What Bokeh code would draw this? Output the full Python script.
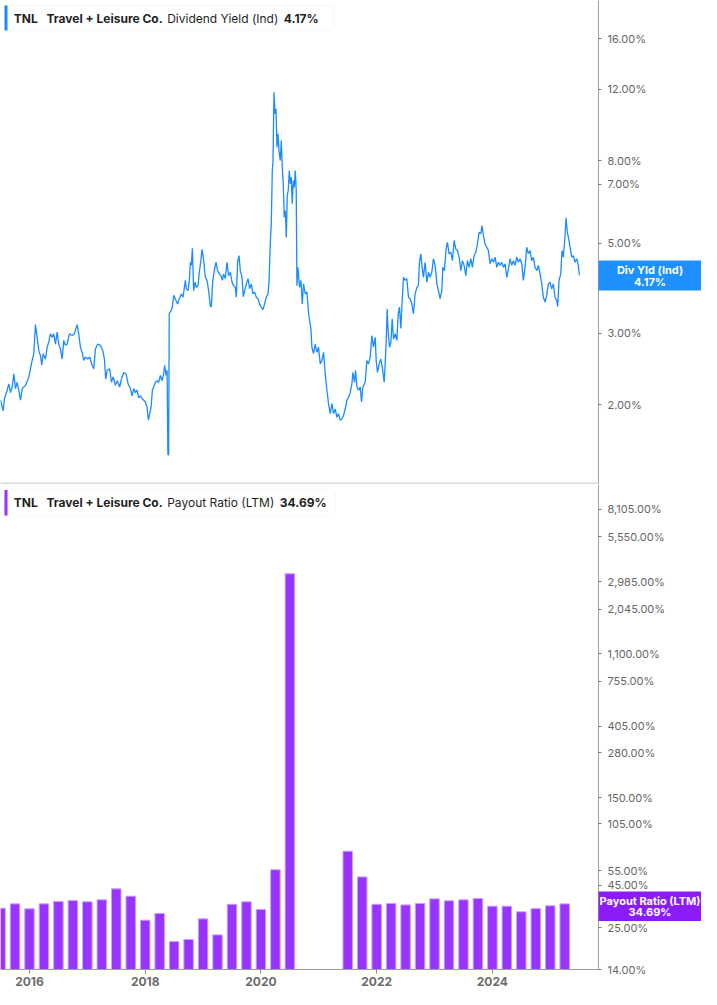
from bokeh.plotting import figure
from bokeh.models import FixedTicker, Label, BoxAnnotation, Range1d
from bokeh.layouts import column
from bokeh.embed import file_html
from bokeh.resources import INLINE

# ---------------- data ----------------
# Dividend yield (Ind), % ; time as decimal year
yield_t = [
    2015.499, 2015.546, 2015.568, 2015.615, 2015.642, 2015.672, 2015.701, 2015.729, 2015.758, 2015.787,
    2015.815, 2015.844, 2015.874, 2015.931, 2015.988, 2016.017, 2016.046, 2016.074, 2016.103, 2016.133,
    2016.160, 2016.190, 2016.212, 2016.236, 2016.276, 2016.305, 2016.333, 2016.362, 2016.392, 2016.419,
    2016.449, 2016.478, 2016.506, 2016.535, 2016.564, 2016.592, 2016.621, 2016.651, 2016.690, 2016.737,
    2016.777, 2016.823, 2016.851, 2016.880, 2016.910, 2016.937, 2016.967, 2017.006, 2017.041, 2017.082,
    2017.110, 2017.139, 2017.179, 2017.226, 2017.266, 2017.295, 2017.317, 2017.342, 2017.386, 2017.416,
    2017.445, 2017.485, 2017.514, 2017.559, 2017.588, 2017.628, 2017.670, 2017.704, 2017.744, 2017.773,
    2017.801, 2017.830, 2017.860, 2017.887, 2017.917, 2017.946, 2017.974, 2018.003, 2018.032, 2018.055,
    2018.077, 2018.101, 2018.124, 2018.146, 2018.176, 2018.205, 2018.233, 2018.262, 2018.291, 2018.319,
    2018.336, 2018.360, 2018.378, 2018.392, 2018.405, 2018.415, 2018.447, 2018.469, 2018.492, 2018.533,
    2018.561, 2018.590, 2018.625, 2018.654, 2018.694, 2018.711, 2018.740, 2018.763, 2018.780, 2018.797,
    2018.815, 2018.837, 2018.861, 2018.883, 2018.913, 2018.935, 2018.958, 2018.982, 2019.010, 2019.039,
    2019.068, 2019.096, 2019.125, 2019.143, 2019.165, 2019.194, 2019.224, 2019.251, 2019.281, 2019.310,
    2019.332, 2019.355, 2019.384, 2019.414, 2019.441, 2019.471, 2019.500, 2019.528, 2019.557, 2019.574,
    2019.597, 2019.621, 2019.643, 2019.673, 2019.695, 2019.725, 2019.747, 2019.777, 2019.804, 2019.833,
    2019.863, 2019.890, 2019.920, 2019.949, 2019.977, 2020.006, 2020.035, 2020.063, 2020.092, 2020.122,
    2020.139, 2020.161, 2020.179, 2020.196, 2020.208, 2020.226, 2020.243, 2020.260, 2020.277, 2020.295,
    2020.312, 2020.334, 2020.352, 2020.369, 2020.386, 2020.403, 2020.421, 2020.438, 2020.455, 2020.472,
    2020.490, 2020.507, 2020.524, 2020.541, 2020.559, 2020.576, 2020.593, 2020.610, 2020.622, 2020.640,
    2020.667, 2020.691, 2020.714, 2020.736, 2020.766, 2020.795, 2020.823, 2020.864, 2020.881, 2020.909,
    2020.938, 2020.968, 2020.996, 2021.025, 2021.054, 2021.082, 2021.111, 2021.140, 2021.168, 2021.197,
    2021.227, 2021.254, 2021.284, 2021.313, 2021.341, 2021.370, 2021.400, 2021.427, 2021.457, 2021.486,
    2021.513, 2021.543, 2021.572, 2021.589, 2021.617, 2021.635, 2021.659, 2021.686, 2021.716, 2021.738,
    2021.762, 2021.802, 2021.831, 2021.859, 2021.888, 2021.918, 2021.945, 2021.975, 2021.992, 2022.014,
    2022.043, 2022.073, 2022.101, 2022.130, 2022.147, 2022.165, 2022.182, 2022.199, 2022.222, 2022.246,
    2022.268, 2022.291, 2022.320, 2022.349, 2022.372, 2022.394, 2022.418, 2022.441, 2022.463, 2022.493,
    2022.522, 2022.550, 2022.579, 2022.608, 2022.636, 2022.665, 2022.695, 2022.722, 2022.740, 2022.763,
    2022.786, 2022.808, 2022.838, 2022.867, 2022.895, 2022.924, 2022.953, 2022.981, 2023.010, 2023.040,
    2023.067, 2023.097, 2023.126, 2023.143, 2023.171, 2023.200, 2023.223, 2023.252, 2023.282, 2023.309,
    2023.339, 2023.368, 2023.396, 2023.425, 2023.455, 2023.482, 2023.511, 2023.541, 2023.568, 2023.598,
    2023.627, 2023.655, 2023.684, 2023.713, 2023.741, 2023.770, 2023.800, 2023.822, 2023.845, 2023.874,
    2023.903, 2023.931, 2023.960, 2023.990, 2024.017, 2024.047, 2024.076, 2024.104, 2024.133, 2024.162,
    2024.190, 2024.219, 2024.249, 2024.276, 2024.306, 2024.335, 2024.363, 2024.392, 2024.421, 2024.449,
    2024.478, 2024.508, 2024.535, 2024.565, 2024.594, 2024.622, 2024.651, 2024.680, 2024.708, 2024.737,
    2024.767, 2024.794, 2024.824, 2024.853, 2024.881, 2024.910, 2024.939, 2024.967, 2024.996, 2025.026,
    2025.053, 2025.083, 2025.112, 2025.129, 2025.152, 2025.181, 2025.204, 2025.226, 2025.250, 2025.273,
    2025.295, 2025.319, 2025.342, 2025.371, 2025.399, 2025.428, 2025.457, 2025.485, 2025.503,
]
yield_pct = [
    2.05, 1.93, 2.07, 2.17, 2.25, 2.14, 2.21, 2.38, 2.19, 2.27,
    2.17, 2.05, 2.19, 2.23, 2.34, 2.45, 2.57, 2.67, 3.15, 2.93,
    2.72, 2.64, 2.50, 2.67, 2.59, 2.77, 2.85, 2.99, 2.93, 2.99,
    2.82, 3.02, 2.82, 2.74, 2.59, 2.88, 2.80, 2.82, 2.99, 2.96,
    2.99, 3.15, 2.99, 2.77, 2.69, 2.57, 2.62, 2.59, 2.62, 2.50,
    2.45, 2.74, 2.82, 2.80, 2.72, 2.59, 2.31, 2.43, 2.45, 2.27,
    2.34, 2.23, 2.29, 2.21, 2.31, 2.40, 2.38, 2.25, 2.19, 2.10,
    2.19, 2.14, 2.17, 2.08, 2.10, 2.07, 2.05, 2.03, 1.97, 1.83,
    1.90, 1.97, 2.17, 2.21, 2.27, 2.29, 2.27, 2.36, 2.29, 2.38,
    2.50, 2.36, 2.43, 1.51, 1.50, 3.35, 3.41, 3.48, 3.72, 3.61,
    3.54, 3.65, 3.75, 3.68, 4.05, 3.86, 3.82, 4.05, 4.49, 4.41,
    4.86, 3.82, 4.01, 3.89, 3.93, 4.24, 4.49, 4.83, 4.53, 4.12,
    4.05, 3.82, 3.51, 3.48, 4.01, 4.28, 4.49, 4.28, 4.20, 4.16,
    4.05, 4.20, 4.09, 4.49, 4.16, 4.24, 4.01, 3.93, 3.89, 3.68,
    4.49, 4.66, 4.28, 4.12, 3.69, 3.86, 3.97, 4.09, 3.86, 3.97,
    3.75, 3.79, 3.68, 3.65, 3.54, 3.48, 3.43, 3.54, 3.68, 3.75,
    4.01, 4.98, 5.58, 7.56, 7.92, 11.79, 10.43, 10.73, 8.63, 9.31,
    8.47, 8.00, 8.96, 7.70, 7.01, 5.80, 6.02, 5.17, 6.56, 6.75,
    7.56, 7.01, 7.28, 6.26, 7.14, 6.87, 7.56, 6.75, 3.93, 4.36,
    3.89, 4.05, 3.54, 3.97, 3.75, 3.79, 3.35, 3.08, 2.77, 2.67,
    2.82, 2.69, 2.77, 2.52, 2.57, 2.69, 2.38, 2.17, 2.01, 1.90,
    2.01, 1.90, 1.95, 1.86, 1.90, 1.83, 1.84, 1.88, 1.95, 2.05,
    2.08, 2.14, 2.25, 2.40, 2.27, 2.43, 2.21, 2.17, 2.21, 2.03,
    2.21, 2.27, 2.57, 2.52, 2.62, 2.96, 2.77, 2.93, 2.57, 2.40,
    2.52, 2.59, 2.45, 2.27, 2.52, 2.88, 3.44, 3.02, 2.77, 2.85,
    3.25, 2.90, 2.99, 2.88, 3.35, 3.48, 3.08, 3.61, 4.12, 4.05,
    4.09, 3.68, 3.65, 3.54, 3.35, 3.75, 3.89, 3.93, 4.49, 4.71,
    4.36, 4.12, 4.49, 4.01, 4.24, 4.12, 4.24, 4.58, 4.41, 3.97,
    3.82, 3.65, 3.82, 4.36, 4.28, 4.84, 5.03, 4.71, 4.75, 4.53,
    5.08, 4.84, 4.80, 4.62, 4.28, 4.53, 4.41, 4.16, 4.53, 4.36,
    4.58, 4.36, 4.66, 4.75, 4.98, 5.32, 5.28, 5.53, 5.22, 4.98,
    4.89, 4.80, 4.45, 4.58, 4.49, 4.62, 4.36, 4.49, 4.41, 4.49,
    4.36, 4.45, 4.12, 4.32, 4.58, 4.41, 4.53, 4.41, 4.62, 4.49,
    4.58, 4.45, 4.05, 4.36, 4.89, 4.71, 4.80, 4.53, 4.62, 4.36,
    4.28, 4.41, 4.20, 3.97, 3.68, 3.58, 3.72, 3.97, 4.01, 3.86,
    3.97, 3.68, 3.61, 3.49, 4.05, 4.20, 4.80, 4.62, 5.08, 5.78,
    5.32, 5.13, 4.89, 4.62, 4.66, 4.49, 4.58, 4.41, 4.17,
]

# Payout ratio (LTM), % by fiscal quarter (None = not meaningful)
quarters = [
    "2015Q2", "2015Q3", "2015Q4", "2016Q1", "2016Q2", "2016Q3", "2016Q4", "2017Q1",
    "2017Q2", "2017Q3", "2017Q4", "2018Q1", "2018Q2", "2018Q3", "2018Q4", "2019Q1",
    "2019Q2", "2019Q3", "2019Q4", "2020Q1", "2020Q2", "2020Q3", "2020Q4", "2021Q1",
    "2021Q2", "2021Q3", "2021Q4", "2022Q1", "2022Q2", "2022Q3", "2022Q4", "2023Q1",
    "2023Q2", "2023Q3", "2023Q4", "2024Q1", "2024Q2", "2024Q3", "2024Q4", "2025Q1",
]
payout_pct = [
    32.7, 34.7, 32.4, 34.7, 35.9, 36.3, 35.7, 36.7,
    42.7, 38.6, 27.7, 30.4, 20.6, 21.2, 28.2, 22.6,
    34.5, 35.7, 32.1, 55.6, 3330.0, None, None, None,
    71.9, 50.4, 34.5, 34.9, 34.2, 34.9, 37.2, 36.2,
    36.7, 37.4, 33.6, 33.6, 31.1, 32.5, 33.8, 34.69,
]

yield_ticks = [2, 3, 5, 7, 8, 12, 16]
payout_ticks = [14, 25, 45, 55, 105, 150, 280, 405, 755, 1100, 2045, 2985, 5550, 8105]
year_ticks = [2016, 2018, 2020, 2022, 2024]

ticker_name = "TNL"
company = "Travel + Leisure Co."
yield_title = "Dividend Yield (Ind)"
payout_title = "Payout Ratio (LTM)"
yield_badge = "Div Yld (Ind)"
last_yield = yield_pct[-1]
last_payout = payout_pct[-1]

# ---------------- style ----------------
FONT = "Inter"
BLUE = "#1a8cff"
BLUE_BADGE = "#1e90ff"
PURPLE = "#9933ff"
PURPLE_BADGE = "#8c1cf7"
W = 701
H_TOP = 484
H_BOT = 505
AXIS_PX = 598              # page x of the value axis
TOP_FB = H_TOP             # frame bottom (page px) of top chart
BOT_FB = H_TOP + H_BOT     # frame bottom (page px) of bottom chart

X0, X_AXIS = 2015.499, 2025.834
X1 = X0 + (X_AXIS - X0) * W / AXIS_PX
x_range = Range1d(X0, X1)

PAY_MIN, PAY_MAX = 14, 11446       # payout value axis extent
PAY_VIEW = (10.62, 11446)          # view incl. room for the time labels under the axis

# quarter end as decimal year (Q2 2015 -> 2015.5, Q4 2015 -> 2016.0)
bar_t, bar_v = [], []
for q, v in zip(quarters, payout_pct):
    if v is None:
        continue
    bar_t.append(int(q[:4]) + int(q[5]) * 0.25)
    bar_v.append(v)


def screen_box(**kw):
    return BoxAnnotation(left_units="screen", right_units="screen", top_units="screen",
                         bottom_units="screen", fill_alpha=1.0, level="overlay", **kw)


def style_yaxis(ax, ticks, bounds=None):
    ax.fixed_location = X_AXIS
    if bounds is not None:
        ax.bounds = bounds
    ax.ticker = FixedTicker(ticks=ticks, minor_ticks=[])
    ax.major_label_overrides = {t: f"{t:,.2f}%" for t in ticks}
    ax.axis_line_color = "#9e9e9e"
    ax.axis_line_width = 1
    ax.major_tick_line_color = "#7a7a7a"
    ax.major_tick_out = 3
    ax.major_tick_in = 0
    ax.minor_tick_line_color = None
    ax.major_label_text_font = FONT
    ax.major_label_text_font_size = "11px"
    ax.major_label_text_color = "#666666"
    ax.major_label_standoff = 6


def add_legend(p, fb, strip_color, title, val, box_top, box_bot, val_x, box_right):
    def sy(Y):
        return fb - Y
    p.add_layout(screen_box(left=4, right=box_right, top=sy(box_top), bottom=sy(box_bot),
                            fill_color="white", line_color="#e4e4e4", line_width=1, border_radius=3))
    p.add_layout(screen_box(left=4, right=7, top=sy(box_top), bottom=sy(box_bot),
                            fill_color=strip_color, line_color=None))
    ymid = sy((box_top + box_bot) / 2)
    items = [(ticker_name, 13.3, "bold"), (company, 46, "bold"), (title, 166.7, "normal"), (val, val_x, "bold")]
    for txt, X, st in items:
        p.add_layout(Label(x=X, y=ymid, x_units="screen", y_units="screen", text=txt,
                           text_font=FONT, text_font_size="12px", text_font_style=st,
                           text_color="#1f1f1f", text_baseline="middle", text_align="left",
                           level="overlay"))


def add_badge(p, fb, color, line1, line2, top_abs, bot_abs):
    def sy(Y):
        return fb - Y
    p.add_layout(screen_box(left=AXIS_PX, right=W + 2, top=sy(top_abs), bottom=sy(bot_abs),
                            fill_color=color, line_color=None))
    cx = AXIS_PX + (W - AXIS_PX) / 2
    h = bot_abs - top_abs
    for txt, Y in [(line1, top_abs + h * 0.31), (line2, top_abs + h * 0.70)]:
        p.add_layout(Label(x=cx, y=sy(Y), x_units="screen", y_units="screen", text=txt,
                           text_font=FONT, text_font_size="11px", text_font_style="bold",
                           text_color="white", text_baseline="middle", text_align="center",
                           level="overlay"))


def base_fig(height, y_range, x_axis):
    p = figure(width=W, height=height, x_range=x_range, y_range=y_range,
               y_axis_type="log", y_axis_location="right", x_axis_location=x_axis,
               output_backend="svg", toolbar_location=None,
               min_border_left=0, min_border_top=0, min_border_bottom=0, min_border_right=0)
    p.grid.visible = False
    p.outline_line_color = None
    p.background_fill_color = "white"
    p.border_fill_color = "white"
    return p


# ---------------- top: dividend yield ----------------
p1 = base_fig(H_TOP, (1.27, 19.86), None)
p1.line(yield_t, yield_pct, line_color=BLUE, line_width=1.3)
style_yaxis(p1.yaxis[0], yield_ticks)
p1.add_layout(screen_box(left=0, right=AXIS_PX, top=2, bottom=0, fill_color="#d9d9d9", line_color=None))
add_legend(p1, TOP_FB, BLUE, yield_title, f"{last_yield:.2f}%", 5, 30, 283.3, 333)
add_badge(p1, TOP_FB, BLUE_BADGE, yield_badge, f"{last_yield:.2f}%", 260, 290)

# ---------------- bottom: payout ratio ----------------
p2 = base_fig(H_BOT, PAY_VIEW, "below")
p2.vbar(x=bar_t, top=bar_v, bottom=PAY_MIN, width=0.164, fill_color=PURPLE,
        line_color="#c7a2ff", line_width=1)
style_yaxis(p2.yaxis[0], payout_ticks, bounds=(PAY_MIN, PAY_MAX))
xa = p2.xaxis[0]
xa.fixed_location = PAY_MIN
xa.bounds = (X0, X_AXIS)
xa.ticker = FixedTicker(ticks=year_ticks, minor_ticks=[])
xa.major_label_overrides = {t: str(t) for t in year_ticks}
xa.axis_line_color = "#9e9e9e"
xa.major_tick_line_color = "#8a8a8a"
xa.major_tick_out = 4
xa.major_tick_in = 0
xa.minor_tick_line_color = None
xa.major_label_text_font = FONT
xa.major_label_text_font_size = "12px"
xa.major_label_text_font_style = "bold"
xa.major_label_text_color = "#6b6b6b"
xa.major_label_standoff = 3
add_legend(p2, BOT_FB, PURPLE, payout_title, f"{last_payout:.2f}%", 489.5, 515, 279.3, 335)
add_badge(p2, BOT_FB, PURPLE_BADGE, payout_title, f"{last_payout:.2f}%", 891, 920.5)

layout = column(p1, p2, spacing=0)
open("out.html", "w").write(file_html(layout, INLINE))
